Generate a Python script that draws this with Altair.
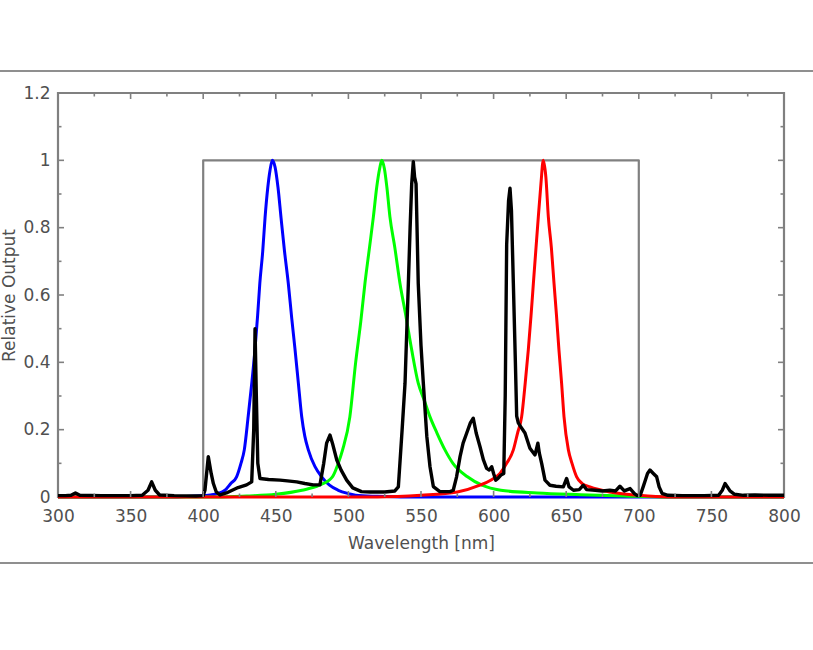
import altair as alt
import pandas as pd

# ---------------- data ----------------
blue_nm = [300, 380, 395, 405, 410, 415, 419, 423, 426, 428.3, 431, 433.5, 435.7, 437.5, 439, 441, 442.6,
           444.5, 446, 447.6, 449.5, 451.5, 453.6, 456, 458.6, 461, 463.2, 465.5, 467.8, 470, 472.4,
           477, 481.6, 487, 493, 500, 505, 520, 540, 800]
blue_val = [0, 0, 0.003, 0.006, 0.01, 0.02, 0.04, 0.06, 0.1, 0.14, 0.24, 0.34, 0.44, 0.54, 0.635, 0.73, 0.83,
            0.92, 0.97, 1.0, 0.98, 0.92, 0.83, 0.73, 0.635, 0.53, 0.44, 0.34, 0.24, 0.18, 0.14,
            0.09, 0.06, 0.035, 0.02, 0.01, 0.005, 0.002, 0, 0]

green_nm = [300, 410, 430, 450, 468, 480, 489, 493, 496, 501, 505, 508.5, 511.4, 514.5, 517.2, 519.5, 521.5,
            523, 524.8, 526.5, 528.6, 532, 535.5, 539.5, 543.6, 548.1, 552, 556.2, 561, 566.5, 572, 582,
            592, 605, 630, 660, 690, 720, 800]
green_val = [0, 0, 0.003, 0.008, 0.02, 0.035, 0.06, 0.1, 0.14, 0.238, 0.4, 0.52, 0.635, 0.74, 0.832, 0.92, 0.975,
             1.0, 0.975, 0.92, 0.832, 0.74, 0.635, 0.54, 0.437, 0.338, 0.29, 0.238, 0.19, 0.14, 0.1, 0.06,
             0.035, 0.02, 0.012, 0.007, 0.003, 0, 0]

red_nm = [300, 520, 550, 575, 590.6, 598, 604.4, 609, 613.6, 616.5, 619.3, 621.8, 623.9, 625.8, 627.4, 629.2,
          630.8, 632.6, 634.2, 636, 637.7, 639.8, 641.6, 643.3, 645, 646.8, 648.5, 651.5, 654, 657.2, 661,
          666.4, 680, 700, 720, 800]
red_val = [0, 0, 0.005, 0.015, 0.035, 0.05, 0.07, 0.1, 0.14, 0.19, 0.238, 0.34, 0.437, 0.54, 0.635, 0.74,
           0.832, 0.93, 1.0, 0.95, 0.832, 0.74, 0.635, 0.54, 0.437, 0.34, 0.238, 0.14, 0.1, 0.06, 0.04,
           0.03, 0.015, 0.005, 0, 0]

black_nm = [300, 305, 309, 312, 315, 330, 350, 358, 362, 364.5, 367, 370, 380, 395, 400, 401.2, 403.5, 405.5,
            407, 409, 411.6, 416, 420, 424, 429.9, 433.4, 434.8, 435.7, 436.6, 437.6, 439.1, 445, 452.9, 458,
            464.4, 470, 475.8, 480.4, 483, 485, 487.3, 489, 492, 495, 498.8, 503, 509, 515, 525, 532, 534.4,
            537, 539, 541.3, 542.5, 543.6, 544.7, 545.6, 546.6, 548.1, 550, 551.6, 554, 556.2, 558.5, 563,
            570, 572.2, 574.5, 576.9, 579, 581.5, 584, 586, 588, 590.6, 593, 595.2, 597, 598.7, 600, 601.5,
            603, 605, 607, 608, 609, 610.3, 611.3, 612.3, 613.6, 615, 615.9, 617, 618.5, 621.6, 625, 628.5,
            630.5, 631.5, 633.1, 635.4, 638.8, 643, 648, 650.3, 652, 655, 659, 661.8, 664, 670, 675, 680,
            684, 687, 690, 694, 697, 699, 701, 703, 704.5, 706, 707.7, 710, 712.3, 714, 716, 720, 730, 745,
            755, 757.5, 759.4, 761, 762.8, 766, 772, 780, 790, 800]
black_val = [0.004, 0.004, 0.005, 0.012, 0.005, 0.004, 0.004, 0.005, 0.02, 0.045, 0.02, 0.006, 0.004, 0.003,
             0.004, 0.02, 0.12, 0.07, 0.04, 0.015, 0.006, 0.012, 0.02, 0.028, 0.036, 0.045, 0.2, 0.5, 0.3,
             0.1, 0.055, 0.052, 0.05, 0.048, 0.045, 0.04, 0.036, 0.036, 0.1, 0.16, 0.184, 0.16, 0.11, 0.08,
             0.05, 0.027, 0.016, 0.015, 0.015, 0.018, 0.03, 0.2, 0.338, 0.635, 0.8, 0.93, 0.996, 0.95, 0.93,
             0.635, 0.45, 0.338, 0.18, 0.09, 0.031, 0.016, 0.016, 0.02, 0.06, 0.12, 0.16, 0.19, 0.22, 0.234,
             0.19, 0.15, 0.11, 0.085, 0.08, 0.09, 0.07, 0.05, 0.055, 0.065, 0.07, 0.3, 0.75, 0.88, 0.917, 0.85,
             0.635, 0.4, 0.24, 0.22, 0.21, 0.19, 0.145, 0.125, 0.16, 0.13, 0.1, 0.05, 0.035, 0.032, 0.03,
             0.055, 0.03, 0.02, 0.022, 0.035, 0.022, 0.02, 0.018, 0.02, 0.018, 0.032, 0.018, 0.025, 0.01,
             0.004, 0.005, 0.03, 0.05, 0.07, 0.08, 0.07, 0.06, 0.03, 0.011, 0.005, 0.004, 0.004, 0.005, 0.02,
             0.04, 0.03, 0.018, 0.008, 0.005, 0.006, 0.005, 0.005]

# ideal flat spectrum box
box_nm = [400, 400, 700, 700]
box_val = [0, 1, 1, 0]

x_ticks = [300, 350, 400, 450, 500, 550, 600, 650, 700, 750, 800]
x_minor = [325, 375, 425, 475, 525, 575, 625, 675, 725, 775]
y_ticks = [0, 0.2, 0.4, 0.6, 0.8, 1, 1.2]
y_minor = [0.1, 0.3, 0.5, 0.7, 0.9, 1.1]

# ---------------- layout constants ----------------
W, H = 726, 404
X0, X1, Y0, Y1 = 300, 800, 0, 1.2
FRAME = "#808080"
TXT = "#505050"
FONT = "DejaVu Sans"

xs = alt.Scale(domain=[X0, X1], nice=False, zero=False)
ys = alt.Scale(domain=[Y0, Y1], nice=False, zero=False)

x_axis = alt.Axis(values=x_ticks, format="d", title="Wavelength [nm]",
                  labelFontSize=17, labelColor=TXT, labelFont=FONT,
                  titleFontSize=17, titleColor=TXT, titleFont=FONT,
                  titleFontWeight="normal", titleY=51, titleBaseline="alphabetic",
                  domain=False, ticks=False, tickSize=0, grid=False,
                  labelPadding=11, labelFlush=False)
y_axis = alt.Axis(values=y_ticks, format="~g", title="Relative Output",
                  labelFontSize=17, labelColor=TXT, labelFont=FONT,
                  titleFontSize=17, titleColor=TXT, titleFont=FONT,
                  titleFontWeight="normal", titleAngle=270, titleX=-44, titleY=H / 2,
                  titleBaseline="alphabetic", titleAlign="center",
                  domain=False, ticks=False, tickSize=0, grid=False,
                  labelPadding=8, labelFlush=False)


def series_df(nm, val):
    return pd.DataFrame({"nm": nm, "v": val, "i": range(len(nm))})


def line_layer(nm, val, color, width, interp="linear"):
    return alt.Chart(series_df(nm, val)).mark_line(
        color=color, strokeWidth=width, strokeJoin="round", strokeCap="butt", interpolate=interp
    ).encode(x=alt.X("nm:Q", scale=xs, axis=x_axis),
             y=alt.Y("v:Q", scale=ys, axis=y_axis),
             order="i:Q")


box = line_layer(box_nm, box_val, FRAME, 2.2)
blue = line_layer(blue_nm, blue_val, "#0000ff", 3, "monotone")
green = line_layer(green_nm, green_val, "#00ff00", 3, "monotone")
red = line_layer(red_nm, red_val, "#ff0000", 3, "monotone")
black = line_layer(black_nm, black_val, "#000000", 3.4)

# inward ticks on all four sides
LY_MAJ, LY_MIN = 6.0 / H * (Y1 - Y0), 3.5 / H * (Y1 - Y0)
LX_MAJ, LX_MIN = 6.0 / W * (X1 - X0), 3.5 / W * (X1 - X0)
rows = []
for t, L in [(t, LY_MAJ) for t in x_ticks[1:-1]] + [(t, LY_MIN) for t in x_minor]:
    rows.append({"nm": t, "x2": t, "v": Y0, "y2": Y0 + L})
    rows.append({"nm": t, "x2": t, "v": Y1, "y2": Y1 - L})
for t, L in [(t, LX_MAJ) for t in y_ticks[1:-1]] + [(t, LX_MIN) for t in y_minor]:
    rows.append({"nm": X0, "x2": X0 + L, "v": t, "y2": t})
    rows.append({"nm": X1, "x2": X1 - L, "v": t, "y2": t})
ticks = alt.Chart(pd.DataFrame(rows)).mark_rule(color=FRAME, strokeWidth=1.6).encode(
    x=alt.X("nm:Q", scale=xs, axis=x_axis), x2="x2:Q",
    y=alt.Y("v:Q", scale=ys, axis=y_axis), y2="y2:Q")

# figure frame lines above and below the plot
frame_df = pd.DataFrame({"k": [0, 1]})
top_line = alt.Chart(frame_df).transform_filter("datum.k == 0").mark_rule(
    color="#6a6a6a", strokeWidth=1.5).encode(
    x=alt.value(-58), x2=alt.value(W + 29), y=alt.value(-22))
bot_line = alt.Chart(frame_df).transform_filter("datum.k == 1").mark_rule(
    color="#6a6a6a", strokeWidth=1.5).encode(
    x=alt.value(-58), x2=alt.value(W + 29), y=alt.value(H + 66))

chart = alt.layer(box, blue, green, red, black, ticks, top_line, bot_line).properties(
    width=W, height=H,
    padding={"left": 58, "top": 93, "right": 29, "bottom": 153},
    autosize=alt.AutoSizeParams(type="none"),
    background="white",
).configure_view(stroke=FRAME, strokeWidth=2.2)

chart.save("out.html", embed_options={"renderer": "svg", "actions": False})
